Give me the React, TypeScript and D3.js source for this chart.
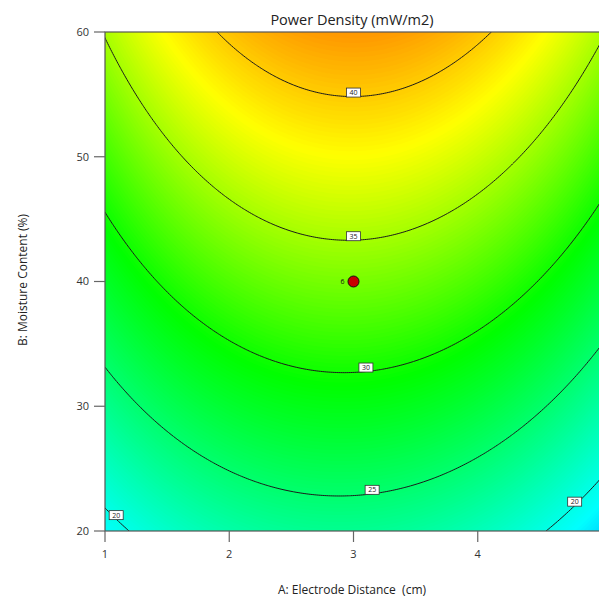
import { useEffect, useRef } from 'react';
import * as d3 from 'd3';

// Contour plot of the fitted response: Power Density vs electrode distance / moisture content

const xTicks = [1, 2, 3, 4];
const yTicks = [20, 30, 40, 50, 60];
const contourLevels = [20, 25, 30, 35, 40];

// model in coded units: a = (A - 3) / 2, b = (B - 40) / 20
const modelTerms = ['I', 'A', 'B', 'AB', 'A2', 'B2', 'A2B'];
const modelCoefs = [33.48, -0.3, 9.3, 0.34, -5.95, -0.68, -0.95];

// contour labels: level and the A value the label sits at
const labelLevels = [40, 35, 30, 25, 20, 20];
const labelA = [3.0, 3.0, 3.1, 3.15, 1.09, 4.78];

// design point (centre point with 6 runs)
const pointA = [3];
const pointB = [40];
const pointRuns = [6];

const colorStops = [11, 19, 29.5, 38, 48];
const colorRange = ['#0000ff', '#00ffff', '#00ff00', '#ffff00', '#ff0000'];

const predict = (A: number, B: number) => {
  const a = (A - 3) / 2;
  const b = (B - 40) / 20;
  const term: Record<string, number> = { I: 1, A: a, B: b, AB: a * b, A2: a * a, B2: b * b, A2B: a * a * b };
  return d3.sum(modelTerms, (t, i) => term[t] * modelCoefs[i]);
};

// B where the response hits `level` at a given A (response rises with B)
const solveB = (A: number, level: number) => {
  let lo = 20, hi = 60;
  for (let k = 0; k < 40; k++) {
    const mid = (lo + hi) / 2;
    if (predict(A, mid) < level) lo = mid;
    else hi = mid;
  }
  return (lo + hi) / 2;
};

const ContourChart = () => {
  const svgRef = useRef<SVGSVGElement>(null);

  useEffect(() => {
    const svg = d3.select(svgRef.current);
    svg.selectAll('*').remove();

    const margin = { top: 32, left: 105 };
    const width = 497;
    const height = 499;
    const font = "'Open Sans', 'Noto Sans', sans-serif";

    const x = d3.scaleLinear().domain([1, 5]).range([0, width]);
    const y = d3.scaleLinear().domain([20, 60]).range([height, 0]);
    const color = d3.scaleLinear<string>().domain(colorStops).range(colorRange).clamp(true);

    svg
      .append('defs')
      .append('clipPath')
      .attr('id', 'plot-clip')
      .append('rect')
      .attr('width', width)
      .attr('height', height);

    const g = svg.append('g').attr('transform', `translate(${margin.left},${margin.top})`);
    const plot = g.append('g').attr('clip-path', 'url(#plot-clip)');

    // Response grid, a bit wider than the plot so edge rings fall outside the clip
    const nx = 260;
    const ny = 260;
    const a0 = 0.9, a1 = 5.1, b0 = 19.5, b1 = 60.5;
    const sa = (a1 - a0) / (nx - 1);
    const sb = (b1 - b0) / (ny - 1);
    const values: number[] = new Array(nx * ny);
    for (let j = 0; j < ny; j++) {
      for (let i = 0; i < nx; i++) {
        values[j * nx + i] = predict(a0 + i * sa, b1 - j * sb);
      }
    }

    const proj = d3.geoTransform({
      point(px: number, py: number) {
        this.stream.point(x(a0 + (px - 0.5) * sa), y(b1 - (py - 0.5) * sb));
      },
    });
    const path = d3.geoPath(proj);

    // Filled colour bands
    const step = 0.15;
    const bands = d3.contours().size([nx, ny]).thresholds(d3.range(14, 45, step))(values);
    plot
      .selectAll('path.band')
      .data(bands)
      .join('path')
      .attr('class', 'band')
      .attr('d', path as any)
      .attr('fill', d => color(d.value + step / 2));

    // Contour lines
    const lines = d3.contours().size([nx, ny]).thresholds(contourLevels)(values);
    plot
      .selectAll('path.level')
      .data(lines)
      .join('path')
      .attr('class', 'level')
      .attr('d', path as any)
      .attr('fill', 'none')
      .attr('stroke', '#1a1a1a')
      .attr('stroke-width', 1);

    // Contour labels
    labelLevels.forEach((level, i) => {
      const cx = x(labelA[i]);
      const cy = y(solveB(labelA[i], level)) - 4;
      plot
        .append('rect')
        .attr('x', cx - 7)
        .attr('y', cy - 4.5)
        .attr('width', 14)
        .attr('height', 9)
        .attr('fill', '#fff')
        .attr('stroke', '#333')
        .attr('stroke-width', 0.8);
      plot
        .append('text')
        .attr('x', cx)
        .attr('y', cy + 2.5)
        .attr('text-anchor', 'middle')
        .style('font-family', font)
        .style('font-size', '7px')
        .attr('fill', '#222')
        .text(level);
    });

    // Design point
    pointA.forEach((a, i) => {
      plot
        .append('circle')
        .attr('cx', x(a))
        .attr('cy', y(pointB[i]))
        .attr('r', 5.5)
        .attr('fill', '#c80000')
        .attr('stroke', '#111')
        .attr('stroke-width', 1);
      plot
        .append('text')
        .attr('x', x(a) - 11)
        .attr('y', y(pointB[i]) + 2.5)
        .attr('text-anchor', 'middle')
        .style('font-family', font)
        .style('font-size', '7px')
        .attr('fill', '#111')
        .text(pointRuns[i]);
    });

    // Frame
    g.append('rect')
      .attr('width', width)
      .attr('height', height)
      .attr('fill', 'none')
      .attr('stroke', '#555')
      .attr('stroke-width', 1.2);

    // Axes
    xTicks.forEach(t => {
      g.append('line')
        .attr('x1', x(t))
        .attr('x2', x(t))
        .attr('y1', height)
        .attr('y2', height + 11)
        .attr('stroke', '#666')
        .attr('stroke-width', 1.2);
      g.append('text')
        .attr('x', x(t))
        .attr('y', height + 27)
        .attr('text-anchor', 'middle')
        .style('font-family', font)
        .style('font-size', '11px')
        .attr('fill', '#333')
        .text(t);
    });

    yTicks.forEach(t => {
      g.append('line')
        .attr('x1', -11)
        .attr('x2', 0)
        .attr('y1', y(t))
        .attr('y2', y(t))
        .attr('stroke', '#666')
        .attr('stroke-width', 1.2);
      g.append('text')
        .attr('x', -16)
        .attr('y', y(t))
        .attr('dy', '0.35em')
        .attr('text-anchor', 'end')
        .style('font-family', font)
        .style('font-size', '11px')
        .attr('fill', '#333')
        .text(t);
    });

    // Titles
    svg
      .append('text')
      .attr('x', 352)
      .attr('y', 25)
      .attr('text-anchor', 'middle')
      .style('font-family', font)
      .style('font-size', '14.5px')
      .attr('fill', '#222')
      .text('Power Density (mW/m2)');

    svg
      .append('text')
      .attr('x', 352)
      .attr('y', 594)
      .attr('text-anchor', 'middle')
      .style('font-family', font)
      .style('font-size', '12px')
      .style('white-space', 'pre')
      .attr('fill', '#222')
      .text('A: Electrode Distance  (cm)');

    svg
      .append('text')
      .attr('transform', 'rotate(-90)')
      .attr('x', -280)
      .attr('y', 27)
      .attr('text-anchor', 'middle')
      .style('font-family', font)
      .style('font-size', '12px')
      .attr('fill', '#222')
      .text('B: Moisture Content (%)');
  }, []);

  return (
    <svg
      ref={svgRef}
      width={599}
      height={601}
      style={{ position: 'absolute', left: 0, top: 0, display: 'block', background: '#fff' }}
    />
  );
};

export default function App() {
  return <ContourChart />;
}
